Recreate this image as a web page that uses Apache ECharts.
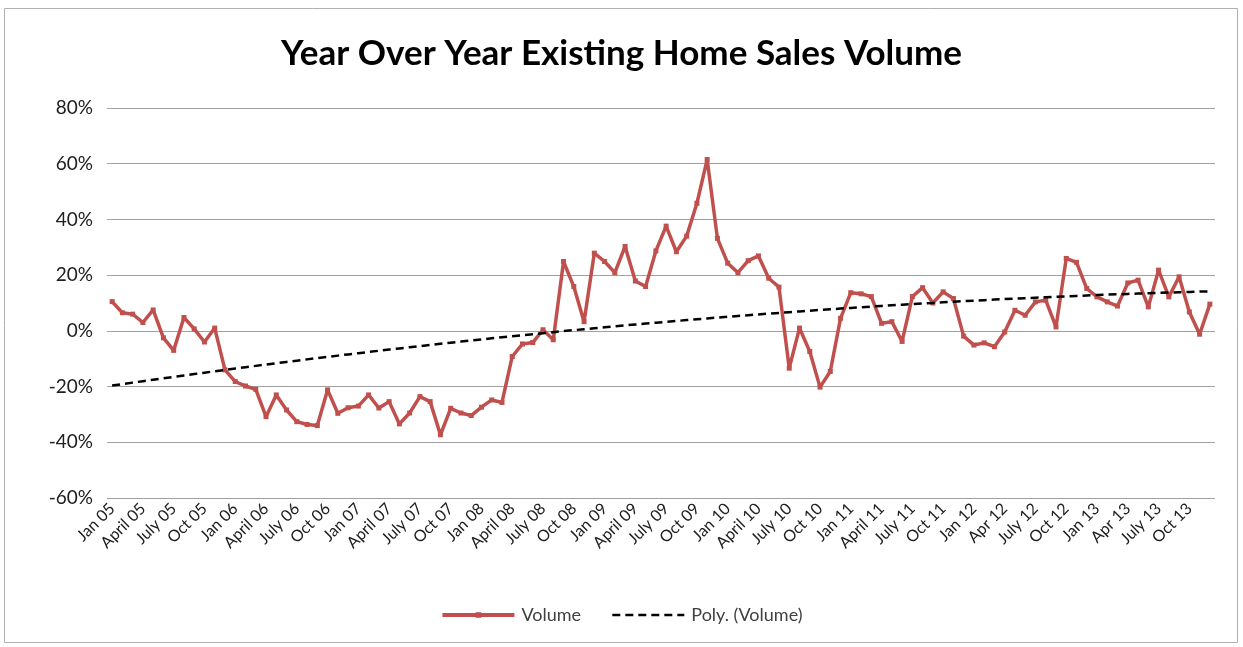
<!DOCTYPE html>
<html><head><meta charset="utf-8">
<script src="https://cdn.jsdelivr.net/npm/echarts@6/dist/echarts.min.js"></script>
<style>html,body{margin:0;padding:0;background:#fff}#c{width:1243px;height:647px}</style>
</head><body><div id="c"></div>
<script>
const tickLabels = ['Jan 05','April 05','July 05','Oct 05','Jan 06','April 06','July 06','Oct 06','Jan 07','April 07','July 07','Oct 07','Jan 08','April 08','July 08','Oct 08','Jan 09','April 09','July 09','Oct 09','Jan 10','April 10','July 10','Oct 10','Jan 11','April 11','July 11','Oct 11','Jan 12','Apr 12','July 12','Oct 12','Jan 13','Apr 13','July 13','Oct 13'];
const monthNames = ['Jan','Feb','Mar','Apr','May','Jun','Jul','Aug','Sep','Oct','Nov','Dec'];
const years = ['05','06','07','08','09','10','11','12','13'];
const yTicks = { min: -60, max: 80, step: 20 };
// Year-over-year change in existing home sales volume (%), Jan 05 .. Dec 13
const volume = [
  10.5, 6.5, 6, 3, 7.5, -2.5, -7, 4.8, 0.7, -4, 1, -14,
  -18.2, -19.8, -21, -30.8, -23, -28.4, -32.6, -33.6, -34, -21.2, -29.6, -27.6,
  -27, -23, -27.7, -25.4, -33.4, -29.5, -23.6, -25.4, -37.3, -27.8, -29.5, -30.4,
  -27.4, -24.8, -25.7, -9.2, -4.7, -4.2, 0.4, -3.2, 24.9, 15.9, 3.3, 27.9,
  24.9, 20.9, 30.3, 17.9, 15.9, 28.7, 37.6, 28.4, 34, 45.8, 61.5, 33.2,
  24.3, 20.9, 25.2, 26.9, 18.9, 15.7, -13.4, 1, -7.4, -20.2, -14.6, 4.5,
  13.7, 13.3, 12.3, 2.7, 3.3, -3.8, 12.3, 15.5, 10, 14, 11.6, -1.9,
  -5.1, -4.3, -5.7, -0.4, 7.4, 5.6, 10.4, 11, 1.4, 26, 24.6, 15.2,
  12.2, 10.4, 8.9, 17.2, 18.2, 8.6, 21.8, 12.2, 19.4, 6.8, -1.2, 9.6
];

const categories = [];
years.forEach(y => monthNames.forEach(m => categories.push(m + ' ' + y)));

// Excel "Poly. (Volume)" trendline: least-squares order-2 polynomial of the Volume series (x = 1..n)
function polyFit2(ys) {
  let S = [0,0,0,0,0], T = [0,0,0];
  ys.forEach((y, i) => {
    const x = i + 1;
    for (let k = 0; k < 5; k++) S[k] += Math.pow(x, k);
    for (let k = 0; k < 3; k++) T[k] += y * Math.pow(x, k);
  });
  const A = [[S[0],S[1],S[2],T[0]],[S[1],S[2],S[3],T[1]],[S[2],S[3],S[4],T[2]]];
  for (let c = 0; c < 3; c++) {
    for (let r = c + 1; r < 3; r++) {
      const f = A[r][c] / A[c][c];
      for (let k = c; k < 4; k++) A[r][k] -= f * A[c][k];
    }
  }
  const b = [0,0,0];
  for (let r = 2; r >= 0; r--) {
    let s = A[r][3];
    for (let k = r + 1; k < 3; k++) s -= A[r][k] * b[k];
    b[r] = s / A[r][r];
  }
  return ys.map((_, i) => { const x = i + 1; return +(b[0] + b[1]*x + b[2]*x*x).toFixed(3); });
}
const trend = polyFit2(volume);

const FONT = 'Lato';
const chart = echarts.init(document.getElementById('c'));
chart.setOption({
  animation: false,
  backgroundColor: '#fff',
  title: {
    text: 'Year Over Year Existing Home Sales Volume',
    left: 'center', top: 31,
    textStyle: { fontFamily: FONT, fontWeight: 'bold', fontSize: 35, color: '#000' }
  },
  graphic: [{
    type: 'rect', silent: true, z: -1,
    shape: { x: 4.5, y: 8.5, width: 1233, height: 634 },
    style: { fill: 'none', stroke: '#b0b0b0', lineWidth: 1 }
  }],
  legend: {
    bottom: 18, left: 'center',
    itemWidth: 72, itemHeight: 7, itemGap: 30,
    textStyle: { fontFamily: FONT, fontSize: 18, color: '#404040', padding: [0, 0, 0, 2] },
    data: [
      { name: 'Volume', lineStyle: { width: 4 } },
      { name: 'Poly. (Volume)', itemStyle: { color: 'rgba(0,0,0,0)', borderWidth: 0 }, lineStyle: { width: 2.5 } }
    ]
  },
  grid: { left: 107, right: 28, top: 108, bottom: 149, containLabel: false },
  xAxis: {
    type: 'category', data: categories, boundaryGap: true,
    axisLine: { show: false }, axisTick: { show: false },
    axisLabel: {
      interval: 2, rotate: 45, margin: 8,
      fontFamily: FONT, fontSize: 16, color: '#202020',
      formatter: (v, i) => tickLabels[Math.floor(i / 3)]
    }
  },
  yAxis: {
    type: 'value', min: yTicks.min, max: yTicks.max, interval: yTicks.step,
    axisLine: { show: false }, axisTick: { show: false },
    axisLabel: { formatter: '{value}%', fontFamily: FONT, fontSize: 19, color: '#202020', margin: 14 },
    splitLine: { lineStyle: { color: '#a0a0a0', width: 1 } }
  },
  series: [{
    name: 'Volume', type: 'line', data: volume,
    symbol: 'rect', symbolSize: 5, showSymbol: true,
    itemStyle: { color: '#C0504D' },
    lineStyle: { color: '#C0504D', width: 3.5 },
    z: 3
  }, {
    name: 'Poly. (Volume)', type: 'line', data: trend,
    symbol: 'none',
    itemStyle: { color: '#000' },
    lineStyle: { color: '#000', width: 2.5, type: [8, 5] },
    z: 4
  }]
});
</script></body></html>
